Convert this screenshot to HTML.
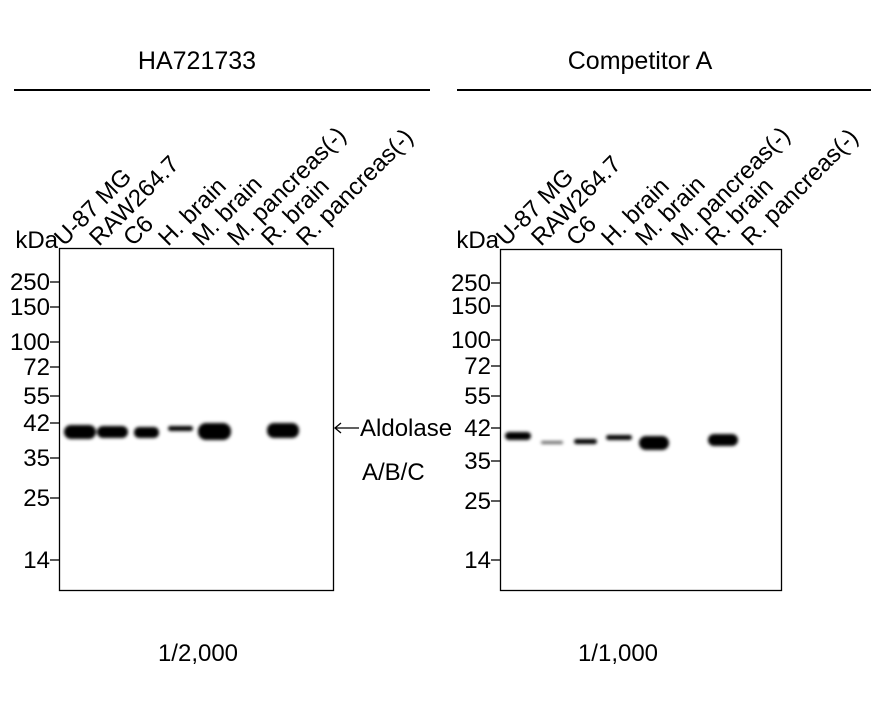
<!DOCTYPE html>
<html><head><meta charset="utf-8"><style>body{margin:0;background:#fff}svg{display:block}</style></head>
<body>
<svg width="888" height="711" viewBox="0 0 888 711" xmlns="http://www.w3.org/2000/svg" font-family="Liberation Sans, Arial, sans-serif" fill="#000">
<defs>
<filter id="b" x="-30%" y="-100%" width="160%" height="300%"><feGaussianBlur stdDeviation="1.6"/></filter>
</defs>
<text x="197" y="69" font-size="25" text-anchor="middle">HA721733</text>
<line x1="14" y1="90" x2="430" y2="90" stroke="#000" stroke-width="2"/>
<text x="640" y="69" font-size="25" text-anchor="middle">Competitor A</text>
<line x1="457" y1="90" x2="871" y2="90" stroke="#000" stroke-width="2"/>

<!-- Left panel -->
<rect x="59.5" y="248.5" width="274" height="342" fill="none" stroke="#000" stroke-width="1.3"/>
<g font-size="24" text-anchor="end">
<text x="58" y="248">kDa</text>
<text x="50" y="290">250</text><text x="50" y="315">150</text><text x="50" y="350">100</text>
<text x="50" y="375">72</text><text x="50" y="404">55</text><text x="50" y="431">42</text>
<text x="50" y="466">35</text><text x="50" y="506">25</text><text x="50" y="568">14</text>
</g>
<g stroke="#000" stroke-width="1.3">
<line x1="50" y1="282" x2="59" y2="282"/><line x1="50" y1="307" x2="59" y2="307"/><line x1="50" y1="342" x2="59" y2="342"/>
<line x1="50" y1="367" x2="59" y2="367"/><line x1="50" y1="396" x2="59" y2="396"/><line x1="50" y1="423" x2="59" y2="423"/>
<line x1="50" y1="458" x2="59" y2="458"/><line x1="50" y1="498" x2="59" y2="498"/><line x1="50" y1="560" x2="59" y2="560"/>
</g>
<g font-size="24">
<text transform="translate(64,247) rotate(-45)">U-87 MG</text>
<text transform="translate(99,247) rotate(-45)">RAW264.7</text>
<text transform="translate(133,247) rotate(-45)">C6</text>
<text transform="translate(168,247) rotate(-45)">H. brain</text>
<text transform="translate(202,247) rotate(-45)">M. brain</text>
<text transform="translate(237,247) rotate(-45)">M. pancreas(-)</text>
<text transform="translate(271,247) rotate(-45)">R. brain</text>
<text transform="translate(306,247) rotate(-45)">R. pancreas(-)</text>
</g>
<g filter="url(#b)">
<rect x="64" y="425" width="32" height="14" rx="7"/>
<rect x="97" y="426" width="31" height="12" rx="6"/>
<rect x="134" y="427" width="25" height="11" rx="5"/>
<rect x="168" y="426" width="25" height="5" rx="2.5"/>
<rect x="198" y="423" width="33" height="17" rx="8"/>
<rect x="267" y="423" width="32" height="15" rx="7"/>
</g>
<line x1="335" y1="428" x2="359" y2="428" stroke="#000" stroke-width="1.3"/>
<polyline points="341,423 335,428 341,433" fill="none" stroke="#000" stroke-width="1.3"/>
<text x="360" y="436" font-size="24">Aldolase</text>
<text x="362" y="480" font-size="24">A/B/C</text>
<text x="198" y="661" font-size="24" text-anchor="middle">1/2,000</text>

<!-- Right panel -->
<rect x="500.5" y="249.5" width="281" height="341" fill="none" stroke="#000" stroke-width="1.3"/>
<g font-size="24" text-anchor="end">
<text x="499" y="248">kDa</text>
<text x="491" y="291">250</text><text x="491" y="314">150</text><text x="491" y="348">100</text>
<text x="491" y="374">72</text><text x="491" y="404">55</text><text x="491" y="436">42</text>
<text x="491" y="469">35</text><text x="491" y="509">25</text><text x="491" y="568">14</text>
</g>
<g stroke="#000" stroke-width="1.3">
<line x1="491" y1="283" x2="500" y2="283"/><line x1="491" y1="306" x2="500" y2="306"/><line x1="491" y1="340" x2="500" y2="340"/>
<line x1="491" y1="366" x2="500" y2="366"/><line x1="491" y1="396" x2="500" y2="396"/><line x1="491" y1="428" x2="500" y2="428"/>
<line x1="491" y1="461" x2="500" y2="461"/><line x1="491" y1="501" x2="500" y2="501"/><line x1="491" y1="560" x2="500" y2="560"/>
</g>
<g font-size="24">
<text transform="translate(506,247) rotate(-45)">U-87 MG</text>
<text transform="translate(541,247) rotate(-45)">RAW264.7</text>
<text transform="translate(576,247) rotate(-45)">C6</text>
<text transform="translate(611,247) rotate(-45)">H. brain</text>
<text transform="translate(645,247) rotate(-45)">M. brain</text>
<text transform="translate(681,247) rotate(-45)">M. pancreas(-)</text>
<text transform="translate(715,247) rotate(-45)">R. brain</text>
<text transform="translate(751,247) rotate(-45)">R. pancreas(-)</text>
</g>
<g filter="url(#b)">
<rect x="505" y="432" width="26" height="8" rx="4"/>
<rect x="541" y="441" width="22" height="3" rx="1.5" opacity="0.6"/>
<rect x="574" y="439" width="23" height="5" rx="2.5"/>
<rect x="606" y="435" width="26" height="5" rx="2.5"/>
<rect x="639" y="436" width="30" height="14" rx="7"/>
<rect x="708" y="434" width="30" height="12" rx="6"/>
</g>
<text x="618" y="661" font-size="24" text-anchor="middle">1/1,000</text>
</svg>
</body></html>
